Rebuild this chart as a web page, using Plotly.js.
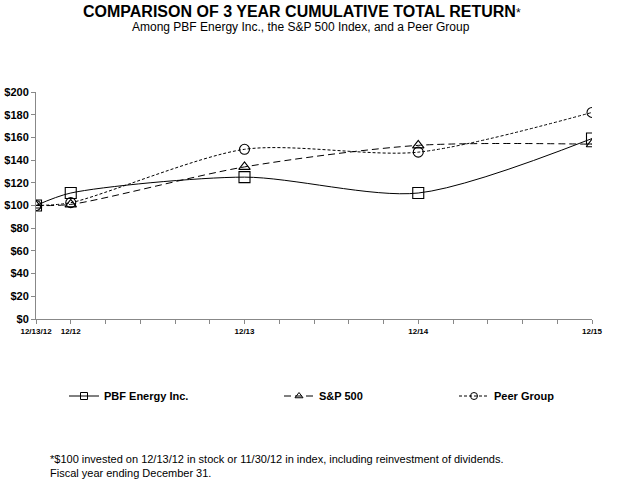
<!DOCTYPE html>
<html>
<head>
<meta charset="utf-8">
<script src="https://cdn.plot.ly/plotly-3.0.1.min.js"></script>
<style>html,body{margin:0;padding:0;background:#fff;}#chart{width:624px;height:480px;}</style>
</head>
<body>
<div id="chart"></div>
<script>
// Data
const xPositions = [0, 1, 6, 11, 16];
const xLabels = ["12/13/12", "12/12", "12/13", "12/14", "12/15"];
const pbfValues = [100, 111, 125, 111, 159];
const spValues = [100, 101, 134, 153, 154];
const peerValues = [100, 102.5, 149.5, 147, 182];
const seriesNames = ["PBF Energy Inc.", "S&P 500", "Peer Group"];
const yTickVals = [0, 20, 40, 60, 80, 100, 120, 140, 160, 180, 200];

const allTicks = [];
const allTickText = [];
for (let i = 0; i <= 16; i++) {
  allTicks.push(i);
  const idx = xPositions.indexOf(i);
  allTickText.push(idx >= 0 ? xLabels[idx] : "");
}

const FONT = "Liberation Sans, Arial, sans-serif";

const styles = [
  {dash: "solid", symbol: "square-open", size: 11, legend: "legend"},
  {dash: "7px,4px", symbol: "triangle-up-open", size: 10, legend: "legend2"},
  {dash: "3px,2px", symbol: "circle-open", size: 10, legend: "legend3"}
];
const seriesValues = [pbfValues, spValues, peerValues];

const traces = [];
seriesValues.forEach((vals, i) => {
  traces.push({
    x: xPositions, y: vals, name: seriesNames[i], mode: "lines+markers",
    line: {color: "#000", width: 1, shape: "spline", smoothing: 0.8, dash: styles[i].dash},
    marker: {symbol: styles[i].symbol, size: styles[i].size, color: "#000", line: {width: 1.1}},
    showlegend: false
  });
});
// legend entries (small markers, as in the reference legend)
seriesValues.forEach((vals, i) => {
  traces.push({
    x: [null], y: [null], name: seriesNames[i], mode: "lines+markers",
    line: {color: "#000", width: 1, dash: styles[i].dash},
    marker: {symbol: styles[i].symbol, size: 7, color: "#000", line: {width: 1}},
    showlegend: true, legend: styles[i].legend
  });
});

function legendAt(px) {
  return {
    xref: "container", yref: "container",
    x: px / 624, y: 1 - 396 / 480, xanchor: "left", yanchor: "middle",
    font: {family: FONT, size: 11, color: "#000", weight: "bold"},
    bgcolor: "rgba(0,0,0,0)", borderwidth: 0
  };
}

function paperX(px) { return (px - 36) / 556; }
function paperY(py) { return (319 - py) / 227; }

const layout = {
  width: 624, height: 480,
  paper_bgcolor: "#fff", plot_bgcolor: "#fff",
  margin: {l: 36, r: 32, t: 92, b: 161, autoexpand: false},
  showlegend: true,
  xaxis: {
    range: [0, 16], tickmode: "array", tickvals: allTicks, ticktext: allTickText,
    showgrid: false, zeroline: false, showline: true, linecolor: "#888", linewidth: 1,
    ticks: "outside", ticklen: 4, tickcolor: "#888", tickangle: 0,
    tickfont: {family: FONT, size: 8, color: "#000", weight: "bold"}
  },
  yaxis: {
    range: [0, 200], tickmode: "array", tickvals: yTickVals,
    ticktext: yTickVals.map(v => "$" + v),
    showgrid: false, zeroline: false, showline: true, linecolor: "#888", linewidth: 1,
    ticks: "outside", ticklen: 4, tickcolor: "#888",
    tickfont: {family: FONT, size: 11, color: "#000", weight: "bold"}
  },
  legend: legendAt(64),
  legend2: legendAt(279),
  legend3: legendAt(454),
  annotations: [
    {
      xref: "paper", yref: "paper", x: paperX(302), y: paperY(12),
      xanchor: "center", yanchor: "middle", showarrow: false,
      text: "<b>COMPARISON OF 3 YEAR CUMULATIVE TOTAL RETURN</b><span style='font-size:12px'>*</span>",
      font: {family: FONT, size: 16, color: "#000"}
    },
    {
      xref: "paper", yref: "paper", x: paperX(301), y: paperY(27),
      xanchor: "center", yanchor: "middle", showarrow: false,
      text: "Among PBF Energy Inc., the S&P 500 Index, and a Peer Group",
      font: {family: FONT, size: 12, color: "#000"}
    },
    {
      xref: "paper", yref: "paper",
      x: paperX(48), y: paperY(466), xanchor: "left", yanchor: "middle",
      text: "*$100 invested on 12/13/12 in stock or 11/30/12 in index, including reinvestment of dividends.<br>Fiscal year ending December 31.",
      align: "left", showarrow: false,
      font: {family: FONT, size: 11, color: "#000"}
    }
  ]
};

Plotly.newPlot("chart", traces, layout, {displayModeBar: false, staticPlot: true});
</script>
</body>
</html>
